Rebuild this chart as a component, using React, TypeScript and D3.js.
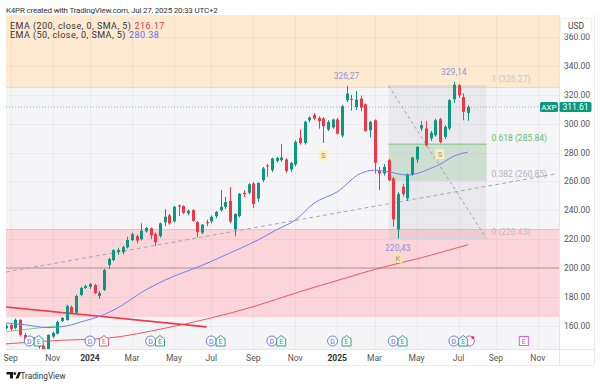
import React from 'react';
import * as d3 from 'd3';

const FONT = "Roboto, 'Noto Sans', Arial, sans-serif";
const UP = '#089981';
const DOWN = '#f23645';

// weekly bars, first one is the week of 28 Aug 2023 : [open, high, low, close]
const firstBar = '2023-08-28';
const bars: [number, number, number, number][] = [
  [158.5, 161, 157.5, 160], [160.5, 161.5, 156.5, 157.8], [158.5, 165, 157.5, 164], [164, 164.5, 152.5, 153.6],
  [153.6, 155, 148.5, 150], [150, 151.5, 146, 148.5], [149, 152, 147, 150.5], [150, 151, 144, 145.5],
  [146, 147, 140.9, 142], [142, 154, 141.5, 153.6], [152.5, 156, 151.5, 155], [154.5, 163.5, 154, 162.6],
  [163.3, 166, 162.5, 165.4], [164, 174.5, 163.5, 173.7], [173, 174, 168, 169], [169, 181.5, 168.5, 180.6],
  [181.3, 187, 180.5, 186.2], [186.2, 188.5, 185.5, 187.5], [187, 189.5, 185.5, 189], [188.2, 189, 182, 182.7],
  [180.6, 184, 178.5, 182.7], [184.8, 199.5, 184, 198.6], [202.1, 207, 199.5, 206.2], [205.5, 213, 204.5, 212.5],
  [211, 214, 209, 212.5], [211, 215.5, 209.5, 214.5], [214.3, 221.7, 213.5, 219.4], [219.4, 224.5, 218.5, 223.5],
  [222, 223, 217, 219], [219.9, 231, 219, 225.8], [225.4, 228.5, 224.5, 227.7], [227.5, 228, 220, 222.8],
  [223.5, 224.5, 215.2, 217.8], [222.1, 231.5, 221, 230.9], [231.8, 240.8, 229, 235.5], [236.5, 237.5, 230, 230.9],
  [232.3, 243, 231.5, 242.4], [243.4, 244, 236, 242.6], [242.9, 243.5, 237.5, 238.3], [237.9, 240.5, 236.5, 239.7],
  [240.1, 240.8, 232, 232.7], [231.8, 232.5, 221.2, 224.9], [224.4, 230.5, 223.5, 230], [231.8, 233.5, 229, 231.3],
  [232.3, 236.5, 231, 235.5], [236, 239.5, 234.5, 238.8], [240.1, 254, 239, 242.4], [242.4, 249.3, 241, 245.7],
  [246.6, 256, 231, 232.2], [226.8, 238, 222, 237.4], [236, 252, 235, 251.5], [252.1, 254, 249, 251.2],
  [252.1, 258.8, 251, 258.1], [258.6, 259.5, 241.5, 244.3], [248.2, 259.3, 246, 259], [260.9, 270, 259.5, 269],
  [271.1, 272, 263.2, 270.6], [267.8, 276.5, 266.5, 275.9], [274.3, 277, 273, 276.3], [274.7, 285.8, 273.5, 276.6],
  [275.2, 276, 266, 267.3], [268.3, 273.5, 266.5, 272.9], [271.8, 288.5, 270.5, 287.4], [290.2, 296, 285.5, 286.7],
  [286.7, 302, 285.5, 301.3], [302.4, 305, 301, 304.3], [306.1, 307.5, 302.5, 303.6], [304, 305, 296.5, 301.9],
  [303.6, 304.5, 286.7, 298.3], [296, 302.5, 295, 301.3], [297.4, 303.5, 296.5, 302.9], [302.9, 304, 292.5, 293.2],
  [291.8, 313, 290.5, 312.1], [316.3, 326.27, 315, 320.9], [317.2, 320, 309, 316.8], [311.6, 322.7, 309.5, 316.8],
  [317.4, 319.5, 308.5, 311.2], [313.4, 314, 294.5, 295], [295.5, 302, 290.5, 301.3], [302.4, 303, 265.5, 272.9],
  [267.3, 270, 254, 265.5], [265.5, 272, 264, 270.1], [274.7, 275.5, 260, 260.9], [262.1, 263, 228.6, 233.7],
  [226.8, 252.5, 220.43, 251.2], [256.3, 258.5, 249.5, 251.2], [248.2, 265.5, 246.5, 265], [265, 277, 264, 276.6],
  [275.2, 284.5, 273, 284], [296.7, 302, 295, 299], [296.7, 302, 284, 285.1], [289.8, 295, 288, 293.7],
  [292, 303.5, 291, 302.4], [303.1, 304, 286.5, 287.4], [290.9, 299, 289.5, 297.8], [296.7, 317, 295.5, 316.3],
  [317, 329.14, 314.5, 327], [326.6, 327.5, 318, 319.7], [318.5, 321, 302.4, 308.2], [307.5, 313, 302, 311.61],
];

const ema200Bars = [0, 10, 22, 34, 44, 53, 63, 72, 80, 89, 99];
const ema200 = [147.4, 149.6, 151.5, 158.2, 165.4, 173.2, 183.6, 192.3, 199.9, 207.1, 216.17];
const ema50Bars = [0, 4, 9, 13, 17, 20, 25, 29, 34, 42, 48, 54, 58, 62, 66, 71, 76, 79, 82, 86, 91, 93, 96, 99];
const ema50 = [161.9, 160.7, 158.7, 159.9, 163.5, 166.4, 174.4, 183, 191.5, 201.8, 210.4, 219.4, 226.5, 233.2,
  244.8, 252.8, 265.5, 267.8, 266.6, 264.4, 269, 271.8, 277.5, 280.38];

const priceTicks = [160, 180, 200, 220, 240, 260, 280, 300, 320, 340, 360];
const monthDates = ['2023-09-04', '2023-11-06', '2024-01-01', '2024-03-04', '2024-05-06', '2024-07-01', '2024-09-02',
  '2024-11-04', '2025-01-06', '2025-03-03', '2025-05-05', '2025-07-07', '2025-09-01', '2025-11-03'];
const monthLabels = ['Sep', 'Nov', '2024', 'Mar', 'May', 'Jul', 'Sep', 'Nov', '2025', 'Mar', 'May', 'Jul', 'Sep', 'Nov'];

const dividendDates = ['2023-10-05', '2024-01-04', '2024-04-04', '2024-07-05', '2024-10-03', '2025-01-03', '2025-04-03', '2025-07-03'];
const earningsDates = ['2023-10-20', '2024-01-26', '2024-04-19', '2024-07-19', '2024-10-18', '2025-01-24', '2025-04-17', '2025-07-18'];
const earningsBeat = [true, false, true, true, true, true, true, true];
const nextEarnings = '2025-10-17';

const fibLevels = ['1', '0.618', '0.382', '0'];
const fibPrices = [326.27, 285.84, 260.85, 220.43];
const fibFrom = '2025-03-24';
const fibTo = '2025-08-18';

const supplyZone = [325.5, 376];
const demandZone = [166, 227];
const roundLevel = 200;
const lastClose = 311.61;

// drawn lines: [bar index, price]
const trendLine: [number, number][] = [[0, 197.2], [118, 265.3]];
const redLine: [number, number][] = [[0, 173], [43, 159.2]];
const greenLine: [number, number][] = [[0, 155.9], [11, 159.9]];

const extremes: [number, number, string][] = [[73, 326.27, 'up'], [96, 329.14, 'up'], [84, 220.43, 'down']];
const letterMarks: [number, number, string][] = [[68, 278, 'S'], [93, 279, 'S'], [84, 207, 'K']];

export default function App() {
  const t0 = new Date(firstBar + 'T00:00:00Z');
  const bar = (i: number) => d3.utcMonday.offset(t0, i);
  const week = (s: string) => d3.utcMonday.floor(new Date(s + 'T12:00:00Z'));
  const x = d3.scaleUtc().domain([t0, bar(99)]).range([6, 467.85]);
  const y = d3.scaleLinear().domain([200, 340]).range([268, 66]);
  const L = 6, R = 559, T = 15, B = 349;

  const line = d3.line<[number, number]>().x(d => x(bar(d[0]))).y(d => y(d[1]));
  const smooth = d3.line<[number, number]>().x(d => x(bar(d[0]))).y(d => y(d[1])).curve(d3.curveMonotoneX);

  const fx0 = x(week(fibFrom));
  const fx1 = x(week(fibTo));
  const fibColors = ['#c9c6cf', '#66bb6a', '#b4b4bc', '#c4bcc4'];
  const markY = 341;

  return (
    <svg width={600} height={386} style={{ position: 'absolute', left: 0, top: 0, background: '#fff' }} fontFamily={FONT}>
      <defs>
        <clipPath id="plot"><rect x={L} y={T} width={R - L} height={B - T} /></clipPath>
      </defs>
      <text x={6} y={13} fontSize={8} letterSpacing={-0.2} fill="#333">K4PR created with TradingView.com, Jul 27, 2025 20:33 UTC+2</text>

      <rect x={L} y={T} width={R - L} height={B - T} fill="#f5f5f8" />
      <g clipPath="url(#plot)">
        <rect x={L} y={y(supplyZone[1])} width={R - L} height={y(supplyZone[0]) - y(supplyZone[1])} fill="#feead0" />
        <line x1={L} x2={R} y1={y(supplyZone[0]) + 0.5} y2={y(supplyZone[0]) + 0.5} stroke="#dcdbe4" />
        <rect x={L} y={y(demandZone[1])} width={R - L} height={y(demandZone[0]) - y(demandZone[1])} fill="#fbd5d9" />
        <line x1={L} x2={R} y1={y(demandZone[1]) + 0.5} y2={y(demandZone[1]) + 0.5} stroke="#f6b9c0" />

        {monthDates.map(d => (
          <line key={d} x1={Math.round(x(week(d))) + 0.5} x2={Math.round(x(week(d))) + 0.5} y1={T} y2={B} stroke="#000" strokeOpacity={0.04} />
        ))}
        {priceTicks.map(p => (
          <line key={p} x1={L} x2={R} y1={Math.round(y(p)) + 0.5} y2={Math.round(y(p)) + 0.5} stroke="#000" strokeOpacity={0.04} />
        ))}

        {/* fib retracement */}
        <rect x={fx0} y={y(fibPrices[0])} width={fx1 - fx0} height={y(fibPrices[3]) - y(fibPrices[0])} fill="#787b86" fillOpacity={0.09} />
        <rect x={fx0} y={y(fibPrices[1])} width={fx1 - fx0} height={y(fibPrices[2]) - y(fibPrices[1])} fill="#4caf50" fillOpacity={0.17} />
        {fibPrices.map((p, i) => (
          <line key={p} x1={fx0} x2={fx1} y1={y(p)} y2={y(p)} stroke={i === 1 ? '#7cc47f' : '#d4d4dc'} strokeWidth={1} />
        ))}
        <line x1={fx0} y1={y(fibPrices[0])} x2={fx1} y2={y(fibPrices[3])} stroke="#a0a0a8" strokeDasharray="3,3" />

        <line x1={L} x2={R} y1={y(roundLevel)} y2={y(roundLevel)} stroke="#a89597" strokeWidth={1} />
        <path d={line(trendLine) ?? ''} fill="none" stroke="#a8a8b0" strokeWidth={1} strokeDasharray="4,3" />
        <path d={line(redLine) ?? ''} fill="none" stroke={DOWN} strokeWidth={1.6} />
        <path d={line(greenLine) ?? ''} fill="none" stroke="#6fbf73" strokeWidth={1} strokeOpacity={0.8} />
        <line x1={L} x2={R} y1={y(lastClose)} y2={y(lastClose)} stroke="#8fb4ad" strokeDasharray="1,2" />

        {bars.map(([o, h, l, c], i) => {
          const cx = Math.round(x(bar(i)));
          const col = c >= o ? UP : DOWN;
          const top = y(Math.max(o, c));
          const bh = Math.max(1, y(Math.min(o, c)) - top);
          return (
            <g key={i}>
              <line x1={cx + 0.5} x2={cx + 0.5} y1={y(h)} y2={y(l)} stroke={col} />
              <rect x={cx - 1} y={top} width={3} height={bh} fill={col} />
            </g>
          );
        })}

        <path d={smooth(ema200Bars.map((b, i) => [b, ema200[i]] as [number, number])) ?? ''} fill="none" stroke="#f2545f" strokeWidth={1} />
        <path d={smooth(ema50Bars.map((b, i) => [b, ema50[i]] as [number, number])) ?? ''} fill="none" stroke="#6f7ff2" strokeWidth={1} />

        {extremes.map(([b, p, side]) => (
          <text key={p} x={x(bar(b))} y={side === 'up' ? y(p) - 7 : y(p) + 12} fontSize={8.5} fill="#8f93db" textAnchor="middle">
            {p.toFixed(2).replace('.', ',')}
          </text>
        ))}
        {letterMarks.map(([b, p, t]) => (
          <g key={b + t}>
            <rect x={x(bar(b)) - 4.5} y={y(p) - 5} width={9} height={10} fill={t === 'K' ? '#fbe3a6' : '#fbf2b0'} />
            <text x={x(bar(b))} y={y(p) + 3} fontSize={7.5} fill="#8d8fa8" textAnchor="middle">{t}</text>
          </g>
        ))}
      </g>

      {/* fib labels */}
      {fibPrices.map((p, i) => (
        <text key={p} x={fx1 + 5} y={y(p) - 3.5} fontSize={8.5} fill={fibColors[i]}>{`${fibLevels[i]} (${p.toFixed(2)})`}</text>
      ))}

      {/* dividends / earnings */}
      <circle cx={x(bar(99)) + 1.5} cy={markY} r={5} fill="#fff" stroke="#c45ad8" />
      <circle cx={x(bar(99)) + 5} cy={markY - 3.5} r={1.6} fill={DOWN} />
      {dividendDates.map(d => {
        const cx = x(week(d));
        return (
          <g key={d}>
            <circle cx={cx} cy={markY} r={5} fill="#fff" stroke="#6b7cf5" />
            <text x={cx} y={markY + 2.6} fontSize={7} fill="#5b6cf0" textAnchor="middle">D</text>
          </g>
        );
      })}
      {earningsDates.map((d, i) => {
        const cx = x(week(d));
        const col = earningsBeat[i] ? '#2fa386' : '#f05a66';
        return (
          <g key={d}>
            <path d={`M${cx - 4.5},${markY + 5} V${markY - 2} L${cx},${markY - 5.5} L${cx + 4.5},${markY - 2} V${markY + 5} Z`} fill="#fff" stroke={col} />
            <text x={cx} y={markY + 3} fontSize={7} fill={col} textAnchor="middle">E</text>
          </g>
        );
      })}
      <rect x={x(week(nextEarnings)) - 4.5} y={markY - 4.5} width={9} height={9} fill="#fff" stroke="#e05cf5" />
      <text x={x(week(nextEarnings))} y={markY + 2.6} fontSize={7} fill="#d04fe8" textAnchor="middle">E</text>

      {/* axes frame */}
      <line x1={L} x2={594} y1={B + 0.5} y2={B + 0.5} stroke="#e6e6ea" />
      <line x1={L} x2={594} y1={365.5} y2={365.5} stroke="#ececf0" />
      <line x1={R + 0.5} x2={R + 0.5} y1={T} y2={365} stroke="#e6e6ea" />
      <line x1={594.5} x2={594.5} y1={T} y2={365} stroke="#ececf0" />

      {monthDates.map((d, i) => {
        const year = /^\d{4}$/.test(monthLabels[i]);
        return (
          <text key={d} x={x(week(d))} y={360.5} fontSize={8.5} textAnchor="middle" fill={year ? '#333' : '#555'} fontWeight={year ? 700 : 400}>
            {monthLabels[i]}
          </text>
        );
      })}

      {priceTicks.map(p => (
        <text key={p} x={564} y={y(p) + 3} fontSize={8.5} fill="#555">{p.toFixed(2)}</text>
      ))}
      <rect x={560.5} y={18.5} width={31} height={14.5} rx={1.5} fill="#fff" stroke="#eeeef2" />
      <text x={576} y={28.5} fontSize={8.5} fill="#444" textAnchor="middle">USD</text>

      <rect x={540} y={y(lastClose) - 5} width={18} height={10} rx={1.5} fill={UP} />
      <text x={549} y={y(lastClose) + 3} fontSize={8} fill="#fff" textAnchor="middle">AXP</text>
      <rect x={559.5} y={y(lastClose) - 5} width={32} height={10} rx={1.5} fill={UP} />
      <text x={575.5} y={y(lastClose) + 3} fontSize={8.5} fill="#fff" textAnchor="middle">{lastClose.toFixed(2)}</text>

      {/* legend */}
      <text x={10} y={28.5} fontSize={9} letterSpacing={0.45} fill="#333">EMA (200, close, 0, SMA, 5)<tspan dx={3} fill={DOWN}>{ema200[ema200.length - 1].toFixed(2)}</tspan></text>
      <text x={10} y={38} fontSize={9} letterSpacing={0.45} fill="#333">EMA (50, close, 0, SMA, 5)<tspan dx={3} fill="#5b6cf9">{ema50[ema50.length - 1].toFixed(2)}</tspan></text>

      {/* footer logo */}
      <path d="M6.5,372 h6.5 v6.5 h-3 v-4 h-3.5 z" fill="#131722" />
      <circle cx={14.8} cy={373.6} r={1.4} fill="#131722" />
      <path d="M15.5,378.5 L18.5,372 h2.6 L18.3,378.5 z" fill="#131722" />
      <text x={20.5} y={378.5} fontSize={8.2} fill="#333">TradingView</text>
    </svg>
  );
}
